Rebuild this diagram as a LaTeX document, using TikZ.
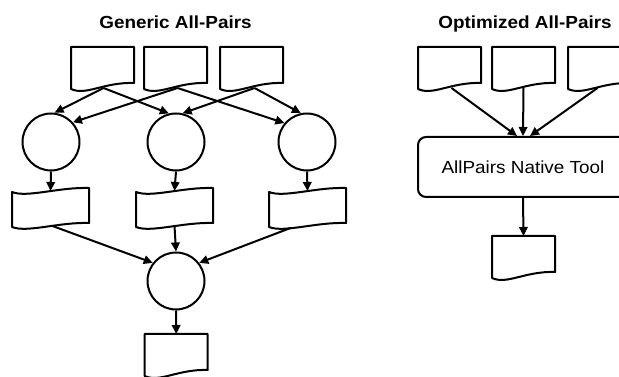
\documentclass[tikz,border=0pt]{standalone}
\usepackage{fontspec}
\setmainfont{Liberation Sans}[FakeStretch=1.08]
\usetikzlibrary{arrows.meta}

% document outline drawn round an empty node
\newcommand{\docshape}[1]{%
  \draw ([yshift=8]#1.south east) -- (#1.north east) -- (#1.north west)
    -- ([yshift=2]#1.south west)
    .. controls +(15,-7) and +(-30,1) .. ([yshift=8]#1.south east) -- cycle;}

% punched tape outline drawn round an empty node
\newcommand{\tapeshape}[1]{%
  \draw ([yshift=-4]#1.north west) .. controls +(15,-6) and +(-30,1) .. (#1.north east)
    -- ([yshift=4]#1.south east) .. controls +(-30,1) and +(15,-6) .. (#1.south west)
    -- cycle;}

\begin{document}
\begin{tikzpicture}[x=1pt,y=1pt,line width=2pt,line join=round,
    >={Triangle[length=9pt,width=8.5pt]}]

      \clip (0,0) rectangle (619,377);
      \useasboundingbox (0,0) rectangle (619,377);

      \begin{scope}[every node/.style={anchor=base,font=\bfseries\fontsize{17.5}{20}\selectfont}]
        \node (gen) at (175.5,348.7) {Generic All-Pairs};
        \node (opt) at (525,348.7)   {Optimized All-Pairs};
      \end{scope}

      \begin{scope}[every node/.style={minimum width=61pt,minimum height=42pt,inner sep=0pt}]
        \node (d1) at (102.5,308) {};
        \node (d2) at (175.5,308) {};
        \node (d3) at (251.5,308) {};
        \node (d4) at (449.5,308) {};
        \node (d5) at (523.5,308) {};
        \node (d6) at (599.5,308) {};
        \node (d7) at (176.2,21)  {};
        \node (d8) at (523.5,119) {};
      \end{scope}
      \foreach \d in {d1,d2,d3,d4,d5,d6,d7,d8} {\docshape{\d}}

      \begin{scope}[every node/.style={circle,draw,minimum size=57pt,inner sep=0pt}]
        \node (c1) at (51,235)  {};
        \node (c2) at (176,235) {};
        \node (c3) at (307,235) {};
        \node (c4) at (176,96)  {};
      \end{scope}

      \begin{scope}[every node/.style={minimum width=75pt,minimum height=37pt,inner sep=0pt}]
        \node (t1) at (50.5,169.5)  {};
        \node (t2) at (174.5,169.5) {};
        \node (t3) at (307.5,169.5) {};
      \end{scope}
      \foreach \t in {t1,t2,t3} {\tapeshape{\t}}

      \node[draw,rounded corners=8pt,minimum width=210pt,minimum height=60pt,
            font=\fontsize{17.5}{20}\selectfont] (tool) at (523,210) {AllPairs Native Tool};

      \begin{scope}[every edge/.style={draw,->}]
        \path ([xshift=1,yshift=3]d1.south) edge (c1.83);
        \path ([xshift=1,yshift=3]d1.south) edge (c2.104);
        \path ([xshift=2,yshift=3]d2.south) edge (c1.42);
        \path ([xshift=2,yshift=3]d2.south) edge (c3.140);
        \path ([xshift=3,yshift=3]d3.south) edge (c2.77);
        \path ([xshift=3,yshift=3]d3.south) edge (c3.102);
        \path (c1.south) edge ([yshift=-3]t1.north);
        \path (c2.south) edge ([yshift=-3]t2.north);
        \path (c3.south) edge ([yshift=-3]t3.north);
        \path ([xshift=2,yshift=1]t1.south) edge (c4.142);
        \path ([yshift=1]t2.south) edge (c4.north);
        \path ([xshift=-17,yshift=-1]t3.south) edge (c4.38);
        \path (c4.south) edge (d7.north);
        \path ([xshift=2,yshift=3]d4.south) edge ([xshift=-6]tool.north);
        \path ([yshift=3]d5.south) edge (tool.north);
        \path ([xshift=-2,yshift=3]d6.south) edge ([xshift=7]tool.north);
        \path (tool.south) edge (d8.north);
      \end{scope}

    \end{tikzpicture}
\end{document}
